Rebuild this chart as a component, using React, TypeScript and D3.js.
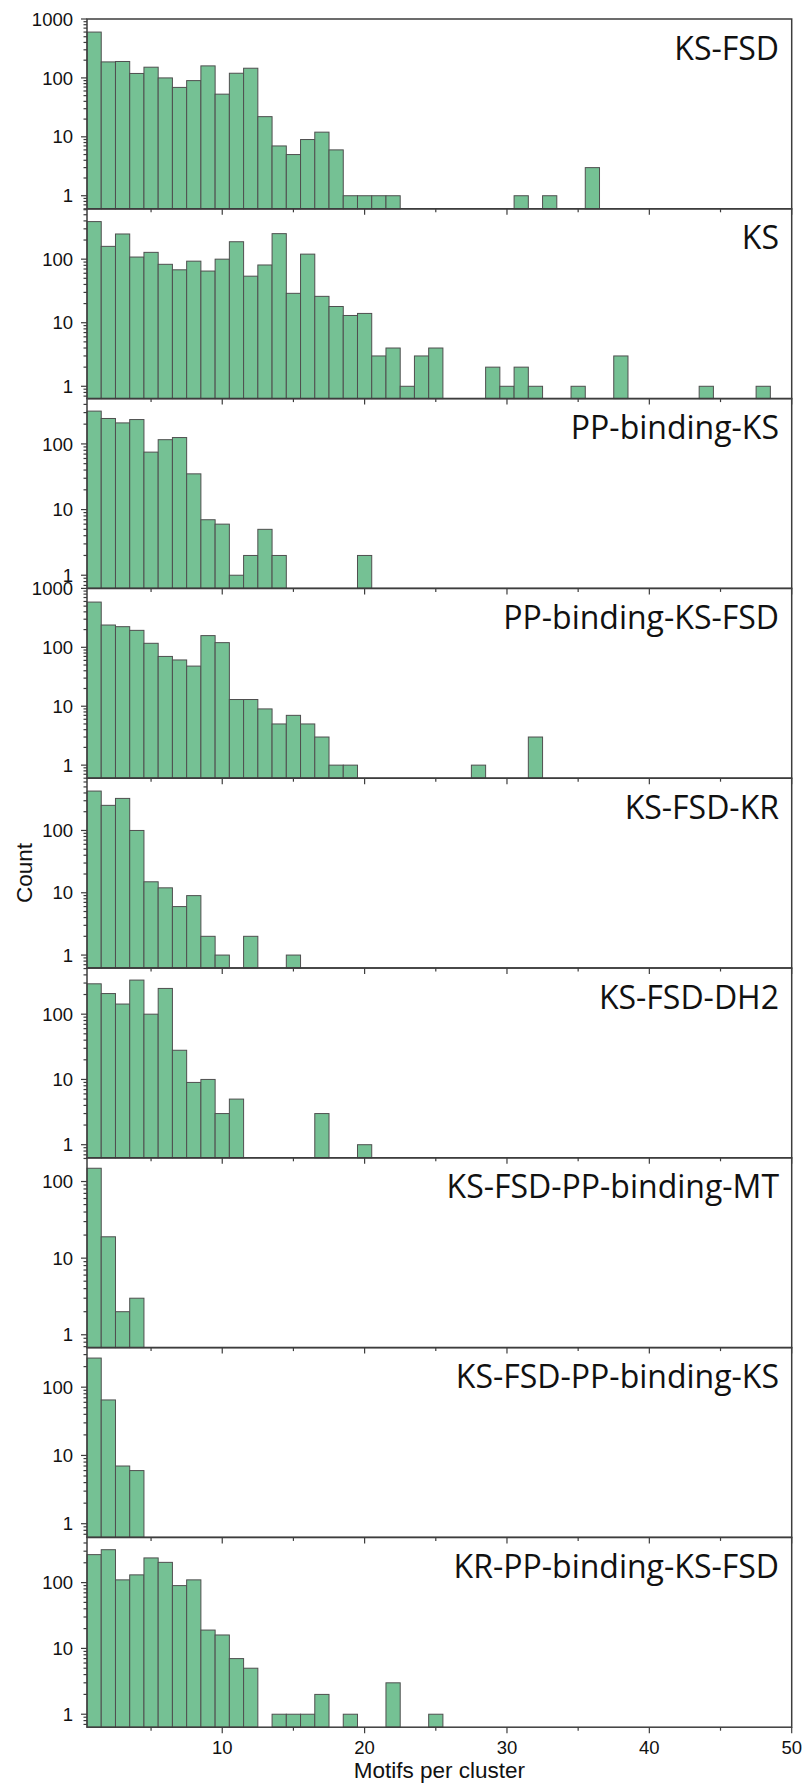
import React from 'react';
import * as d3 from 'd3';

// Histograms of motifs per cluster, one panel per domain architecture.
// Each array holds the count for bins 1, 2, 3, ... (bin width 1).
const panelLabels = [
  'KS-FSD',
  'KS',
  'PP-binding-KS',
  'PP-binding-KS-FSD',
  'KS-FSD-KR',
  'KS-FSD-DH2',
  'KS-FSD-PP-binding-MT',
  'KS-FSD-PP-binding-KS',
  'KR-PP-binding-KS-FSD',
];

const countsKsFsd = [600, 187, 190, 119, 152, 100, 69, 90, 160, 53, 120, 146, 22, 7, 5, 9, 12, 6, 1, 1, 1, 1, 0, 0, 0, 0, 0, 0, 0, 0, 1, 0, 1, 0, 0, 3];
const countsKs = [390, 159, 249, 108, 128, 83, 68, 93, 65, 100, 188, 54, 81, 252, 29, 120, 26, 18, 13, 14, 3, 4, 1, 3, 4, 0, 0, 0, 2, 1, 2, 1, 0, 0, 1, 0, 0, 3, 0, 0, 0, 0, 0, 1, 0, 0, 0, 1];
const countsPpKs = [316, 244, 209, 235, 75, 116, 125, 35, 7, 6, 1, 2, 5, 2, 0, 0, 0, 0, 0, 2];
const countsPpKsFsd = [586, 239, 224, 194, 117, 70, 61, 48, 158, 120, 13, 13, 9, 5, 7, 5, 3, 1, 1, 0, 0, 0, 0, 0, 0, 0, 0, 1, 0, 0, 0, 3];
const countsKsFsdKr = [429, 253, 327, 100, 15, 12, 6, 9, 2, 1, 0, 2, 0, 0, 1];
const countsKsFsdDh2 = [292, 207, 143, 333, 100, 248, 28, 9, 10, 3, 5, 0, 0, 0, 0, 0, 3, 0, 0, 1];
const countsKsFsdPpMt = [149, 19, 2, 3];
const countsKsFsdPpKs = [267, 65, 7, 6];
const countsKrPpKsFsd = [266, 316, 110, 131, 237, 203, 90, 110, 19, 16, 7, 5, 0, 1, 1, 1, 2, 0, 1, 0, 0, 3, 0, 0, 1];

const panelCounts = [
  countsKsFsd,
  countsKs,
  countsPpKs,
  countsPpKsFsd,
  countsKsFsdKr,
  countsKsFsdDh2,
  countsKsFsdPpMt,
  countsKsFsdPpKs,
  countsKrPpKsFsd,
];

// Log-axis limits of each panel
const yAxisMin = [0.6, 0.64, 0.63, 0.6, 0.62, 0.63, 0.68, 0.63, 0.635];
const yAxisMax = [1000, 620, 490, 1000, 690, 510, 204, 380, 486];

const xDomain = [0.5, 50];
const xMajorTicks = [10, 20, 30, 40, 50];
const xMinorTicks = [5, 15, 25, 35, 45];

const xTitle = 'Motifs per cluster';
const yTitle = 'Count';

const W = 807;
const H = 1786;
const plotLeft = 87;
const plotRight = 791.7;
const plotTop = 19;
const panelH = 189.8;

const BAR_FILL = '#75c194';
const BAR_STROKE = '#4f4f4f';
const AXIS = '#3d3d3d';
const TICK_FONT = '"Liberation Sans", Arial, sans-serif';
const LABEL_FONT = '"Open Sans", "Noto Sans", sans-serif';

const isDecade = (v: number) => Math.abs(Math.log10(v) - Math.round(Math.log10(v))) < 1e-9;

function Panel({ index, x }: { index: number; x: d3.ScaleLinear<number, number> }) {
  const y0 = plotTop + index * panelH;
  const y1 = y0 + panelH;
  const y = d3.scaleLog().domain([yAxisMin[index], yAxisMax[index]]).range([y1, y0]);
  const counts = panelCounts[index];
  const yTicks = y.ticks();
  const isLast = index === panelCounts.length - 1;

  return (
    <g>
      {counts.map((c, k) => {
        if (c <= 0) return null;
        const bin = k + 1;
        const xa = x(bin - 0.5);
        const xb = x(bin + 0.5);
        const top = y(c);
        return (
          <rect
            key={k}
            x={xa}
            y={top}
            width={xb - xa}
            height={y1 - top}
            fill={BAR_FILL}
            stroke={BAR_STROKE}
            strokeWidth={1}
          />
        );
      })}

      {/* frame */}
      <rect x={plotLeft} y={y0} width={plotRight - plotLeft} height={panelH} fill="none" stroke={AXIS} strokeWidth={1.5} />

      {/* y ticks */}
      {yTicks.map((v, k) => {
        const major = isDecade(v);
        const ty = y(v);
        return (
          <g key={k}>
            <line x1={plotLeft} x2={plotLeft - (major ? 6 : 3.5)} y1={ty} y2={ty} stroke={AXIS} strokeWidth={1.2} />
            {major && (
              <text
                x={plotLeft - 14}
                y={ty + 6.6}
                textAnchor="end"
                fontFamily={TICK_FONT}
                fontSize={18.5}
                fill="#111"
              >
                {String(v)}
              </text>
            )}
          </g>
        );
      })}

      {/* x ticks */}
      {xMajorTicks.map((v) => (
        <line key={'M' + v} x1={x(v)} x2={x(v)} y1={y1} y2={y1 + 6} stroke={AXIS} strokeWidth={1.2} />
      ))}
      {xMinorTicks.map((v) => (
        <line key={'m' + v} x1={x(v)} x2={x(v)} y1={y1} y2={y1 + 3.5} stroke={AXIS} strokeWidth={1.2} />
      ))}
      {isLast &&
        xMajorTicks.map((v) => (
          <text
            key={'l' + v}
            x={x(v)}
            y={y1 + 27}
            textAnchor="middle"
            fontFamily={TICK_FONT}
            fontSize={18.5}
            fill="#111"
          >
            {String(v)}
          </text>
        ))}

      <text
        x={779}
        y={y0 + 40.5}
        textAnchor="end"
        fontFamily={LABEL_FONT}
        fontSize={32}
        fill="#111"
      >
        {panelLabels[index]}
      </text>
    </g>
  );
}

export default function App() {
  const x = d3.scaleLinear().domain(xDomain).range([plotLeft, plotRight]);
  const plotBottom = plotTop + panelCounts.length * panelH;
  return (
    <svg
      width={W}
      height={H}
      viewBox={`0 0 ${W} ${H}`}
      style={{ position: 'absolute', left: 0, top: 0, background: '#fff' }}
    >
      <rect x={0} y={0} width={W} height={H} fill="#fff" />
      {panelCounts.map((_, i) => (
        <Panel key={i} index={i} x={x} />
      ))}
      <text
        x={(plotLeft + plotRight) / 2}
        y={plotBottom + 51}
        textAnchor="middle"
        fontFamily={TICK_FONT}
        fontSize={22.5}
        fill="#111"
      >
        {xTitle}
      </text>
      <text
        transform={`translate(31.5, ${(plotTop + plotBottom) / 2}) rotate(-90)`}
        textAnchor="middle"
        fontFamily={TICK_FONT}
        fontSize={22.5}
        fill="#111"
      >
        {yTitle}
      </text>
    </svg>
  );
}
